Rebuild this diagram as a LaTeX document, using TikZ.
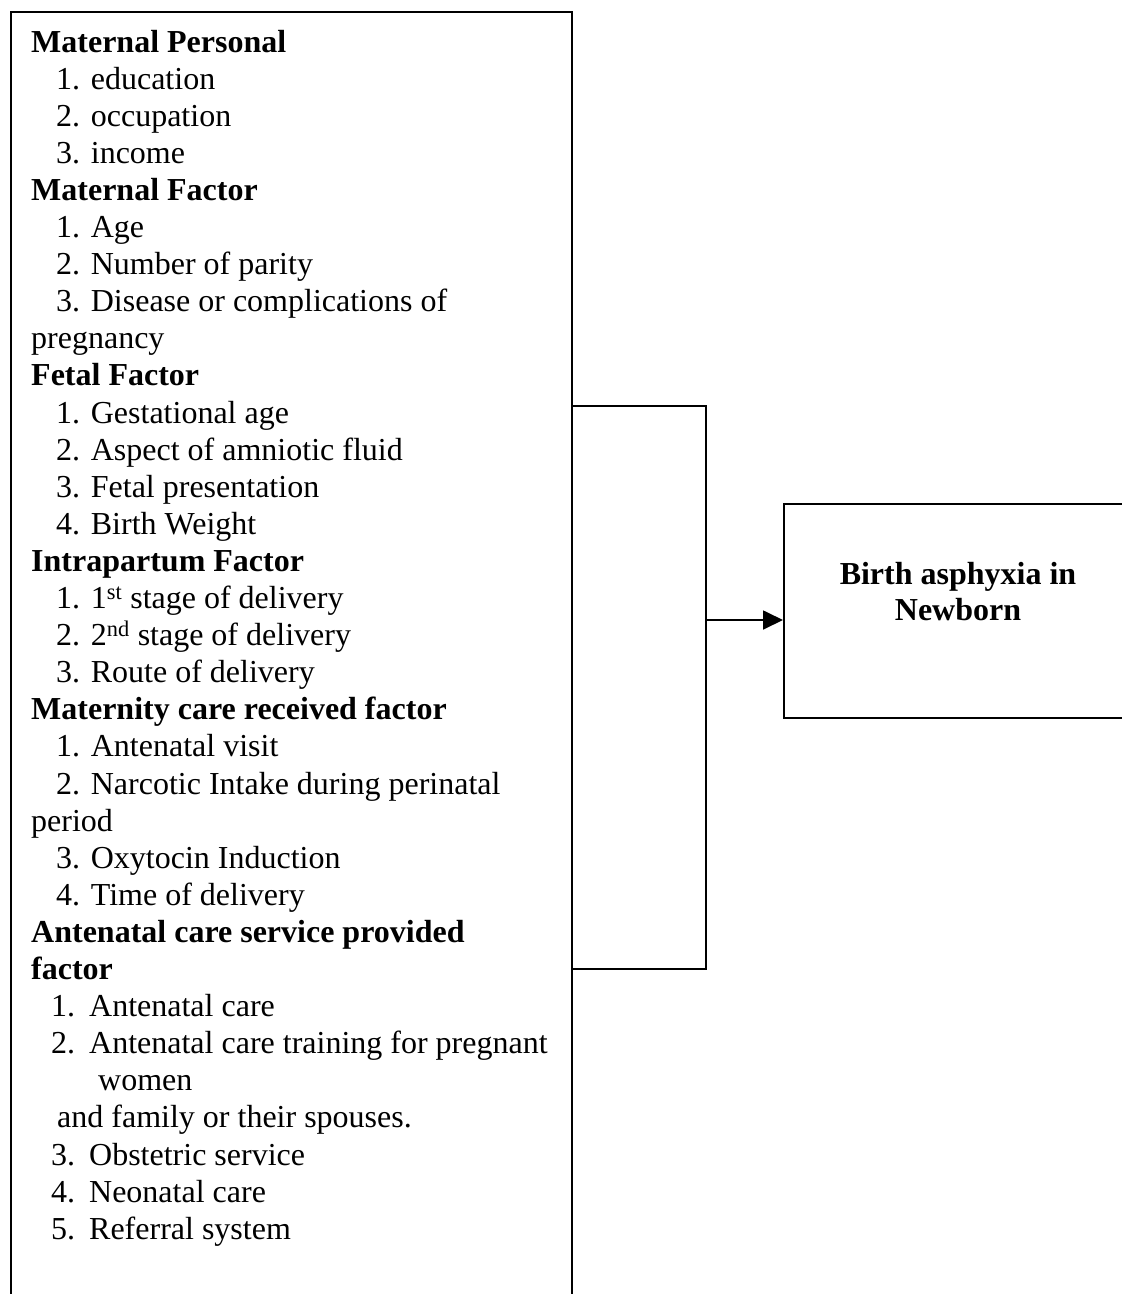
\documentclass[tikz,border=0pt]{standalone}
\usepackage{fontspec}
\setmainfont{Liberation Serif}
\usetikzlibrary{arrows.meta}
\newcommand{\itemno}[1]{\makebox[38pt][l]{#1}}
\tikzset{
  frame/.style={draw, line width=1.8pt, inner sep=0pt, anchor=north west},
  link/.style={line width=1.8pt},
  factorhead/.style={anchor=base west, inner sep=0pt, font=\fontsize{32}{37}\selectfont\bfseries},
  factoritem/.style={anchor=base west, inner sep=0pt, font=\fontsize{32}{37}\selectfont},
  outcometext/.style={align=center, inner sep=0pt, font=\fontsize{32}{36}\selectfont\bfseries}
}
\begin{document}
\begin{tikzpicture}[x=1pt, y=-1pt]
  \useasboundingbox (0,0) rectangle (1122,1294);
  \clip (0,0) rectangle (1122,1294);
  % boxes, both run past the page edge
  \node[frame, minimum width=561pt, minimum height=1320pt] (factors) at (10,11) {};
  \node[frame, minimum width=360pt, minimum height=214pt] (outcome) at (783,503) {};
  \node[outcometext] (outcomelabel) at (958,592) {Birth asphyxia in\\Newborn};
  % factor list, one line each
  \foreach \s/\x/\txt [count=\i from 0] in {
      factorhead/31/Maternal Personal,
      factoritem/56/1. education,
      factoritem/56/2. occupation,
      factoritem/56/3. income,
      factorhead/31/Maternal Factor,
      factoritem/56/1. Age,
      factoritem/56/2. Number of parity,
      factoritem/56/3. Disease or complications of,
      factoritem/31/pregnancy,
      factorhead/31/Fetal Factor,
      factoritem/56/1. Gestational age,
      factoritem/56/2. Aspect of amniotic fluid,
      factoritem/56/3. Fetal presentation,
      factoritem/56/4. Birth Weight,
      factorhead/31/Intrapartum Factor,
      factoritem/56/1. 1\textsuperscript{st} stage of delivery,
      factoritem/56/2. 2\textsuperscript{nd} stage of delivery,
      factoritem/56/3. Route of delivery,
      factorhead/31/Maternity care received factor,
      factoritem/56/1. Antenatal visit,
      factoritem/56/2. Narcotic Intake during perinatal,
      factoritem/31/period,
      factoritem/56/3. Oxytocin Induction,
      factoritem/56/4. Time of delivery,
      factorhead/31/Antenatal care service provided,
      factorhead/31/factor,
      factoritem/51/\itemno{1.}Antenatal care,
      factoritem/51/\itemno{2.}Antenatal care training for pregnant,
      factoritem/98/women,
      factoritem/57/and family or their spouses.,
      factoritem/51/\itemno{3.}Obstetric service,
      factoritem/51/\itemno{4.}Neonatal care,
      factoritem/51/\itemno{5.}Referral system}
    \node[\s] (line\i) at (\x, 52+37.1*\i) {\txt};
  % bracket and arrow
  \coordinate (brtop) at (706,406);
  \coordinate (brbot) at (706,969);
  \coordinate (joint) at (706,620);
  \draw[link] (factors.east |- brtop) -- (brtop) -- (brbot) -- (factors.east |- brbot);
  \draw[link, -{Triangle[length=20pt, width=19pt]}] (joint) -- (joint -| outcome.west);
\end{tikzpicture}
\end{document}
